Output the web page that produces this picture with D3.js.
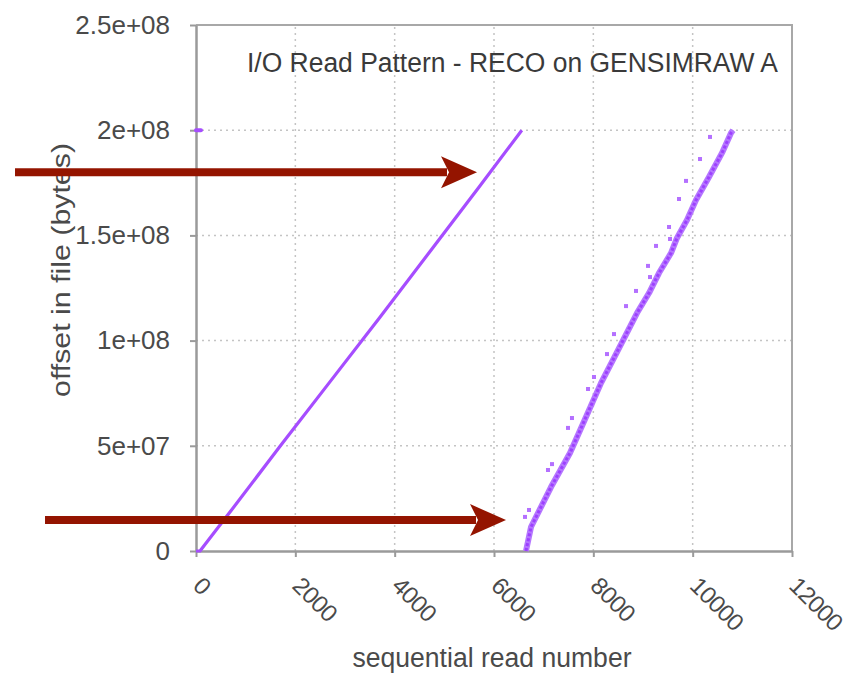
<!DOCTYPE html>
<html><head><meta charset="utf-8">
<script src="https://cdn.jsdelivr.net/npm/d3@7"></script>
<style>body{margin:0;background:#fff} text{font-family:"Liberation Sans",Arial,sans-serif}</style>
</head><body><svg id="c" width="850" height="674"></svg>
<script>
const xTicks = [0, 2000, 4000, 6000, 8000, 10000, 12000];
const xTickLabels = ["0", "2000", "4000", "6000", "8000", "10000", "12000"];
const yTicks = [0, 5e7, 1e8, 1.5e8, 2e8, 2.5e8];
const yTickLabels = ["0", "5e+07", "1e+08", "1.5e+08", "2e+08", "2.5e+08"];

// first pass: sequential read number vs offset
const firstPass = [[0,0],[80,0],[700,1.9e7],[1700,5.0e7],[2700,8.05e7],[3700,1.11e8],[4700,1.42e8],[5700,1.73e8],[6560,2.0e8]];
// early reads at the end of the file
const startReads = [[0,2e8],[50,2e8],[100,2e8]];
// second pass: main band
const secondBand = [[6644,0],[6745,1.14e7],[7148,3.04e7],[7530,4.66e7],[7852,6.37e7],[8154,7.98e7],[8497,9.55e7],[8879,1.131e8],[9121,1.226e8],[9322,1.321e8],[9564,1.416e8],[9685,1.488e8],[9886,1.573e8],[10067,1.668e8],[10329,1.778e8],[10591,1.892e8],[10772,1.987e8],[10812,2.0e8]];
// second pass: scattered out-of-order reads
const secondScatter = [[6624,1.62e7],[6705,1.95e7],[7087,3.85e7],[7168,4.13e7],[7490,5.85e7],[7570,6.32e7],[7893,7.70e7],[8013,8.27e7],[8275,9.36e7],[8416,1.031e8],[8658,1.164e8],[8859,1.236e8],[9141,1.302e8],[9101,1.355e8],[9262,1.450e8],[9544,1.483e8],[9524,1.540e8],[9725,1.673e8],[9866,1.759e8],[10148,1.863e8],[10349,1.968e8]];
// annotation arrows (data coordinates)
const arrows = [{from:[-3644,1.80e8], to:[5658,1.80e8]}, {from:[-3040,1.47e7], to:[6242,1.47e7]}];

const title = "I/O Read Pattern - RECO on GENSIMRAW A";
const xLabel = "sequential read number";
const yLabel = "offset in file (bytes)";

const svg = d3.select("#c");
const x = d3.scaleLinear().domain([0, 12000]).range([196, 792]);
const y = d3.scaleLinear().domain([0, 2.5e8]).range([551, 25]);

const gridColor = "#c4c4c4";
svg.append("g").selectAll("line").data(xTicks.slice(1, -1)).join("line")
  .attr("x1", d => x(d)).attr("x2", d => x(d)).attr("y1", y(0)).attr("y2", y(2.5e8))
  .attr("stroke", gridColor).attr("stroke-width", 1.5).attr("stroke-dasharray", "2,4");
svg.append("g").selectAll("line").data(yTicks.slice(1, -1)).join("line")
  .attr("y1", d => y(d)).attr("y2", d => y(d)).attr("x1", x(0)).attr("x2", x(12000))
  .attr("stroke", gridColor).attr("stroke-width", 1.5).attr("stroke-dasharray", "2,4");
svg.append("path").attr("d", `M${x(0)},${y(2.5e8)}H${x(12000)}V${y(0)}`)
  .attr("fill", "none").attr("stroke", "#a8a8a8").attr("stroke-width", 2);

const axisColor = "#9a9a9a";
const gx = svg.append("g").attr("transform", `translate(0,${y(0)})`)
  .call(d3.axisBottom(x).tickValues(xTicks).tickFormat("").tickSizeInner(6).tickSizeOuter(0));
const gy = svg.append("g").attr("transform", `translate(${x(0)},0)`)
  .call(d3.axisLeft(y).tickValues(yTicks).tickFormat((d, i) => yTickLabels[i]).tickSizeInner(6).tickSizeOuter(0).tickPadding(20));
[gx, gy].forEach(g => {
  g.select(".domain").attr("stroke", axisColor).attr("stroke-width", 2.5);
  g.selectAll(".tick line").attr("stroke", axisColor).attr("stroke-width", 2);
  g.selectAll(".tick text").attr("fill", "#4a4a4a").style("font-size", "26px").style("font-family", '"Liberation Sans",Arial,sans-serif');
});
svg.append("g").selectAll("text").data(xTicks).join("text")
  .attr("transform", d => `translate(${x(d) + 8},575) rotate(45)`)
  .attr("dy", "0.72em").attr("fill", "#4a4a4a").style("font-size", "24px").attr("letter-spacing", "-0.6")
  .text((d, i) => xTickLabels[i]);

const purple = "#a64dff";
const line = d3.line().x(d => x(d[0])).y(d => y(d[1]));
svg.append("path").datum(firstPass).attr("d", line).attr("fill", "none")
  .attr("stroke", purple).attr("stroke-width", 3.2).attr("stroke-linejoin", "round");
svg.append("path").datum(startReads).attr("d", line).attr("fill", "none")
  .attr("stroke", purple).attr("stroke-width", 4).attr("stroke-linecap", "round");
svg.append("path").datum(secondBand).attr("d", line).attr("fill", "none")
  .attr("stroke", "#b577ff").attr("stroke-width", 6).attr("stroke-linejoin", "round");
svg.append("path").datum(secondBand).attr("d", line).attr("fill", "none")
  .attr("stroke", "#9d40ff").attr("stroke-width", 3).attr("stroke-dasharray", "3,2").attr("stroke-linejoin", "round");
svg.append("g").selectAll("rect").data(secondScatter).join("rect")
  .attr("x", d => x(d[0]) - 2).attr("y", d => y(d[1]) - 2).attr("width", 4).attr("height", 4)
  .attr("fill", "#b470ff");

svg.append("text").attr("x", 247).attr("y", 72).attr("fill", "#3a3a3a").style("font-size", "27px")
  .attr("textLength", 531).attr("lengthAdjust", "spacingAndGlyphs").text(title);
svg.append("text").attr("x", 492).attr("y", 667).attr("text-anchor", "middle").attr("fill", "#4a4a4a")
  .style("font-size", "27px").attr("textLength", 279).attr("lengthAdjust", "spacingAndGlyphs").text(xLabel);
svg.append("text").attr("transform", "translate(70,270) rotate(-90)").attr("text-anchor", "middle").attr("fill", "#4a4a4a")
  .style("font-size", "26px").attr("textLength", 254).attr("lengthAdjust", "spacingAndGlyphs").text(yLabel);

const arrowColor = "#941400";
arrows.forEach(a => {
  const x0 = x(a.from[0]), x1 = x(a.to[0]), yy = y(a.to[1]);
  svg.append("line").attr("x1", x0).attr("x2", x1 - 30).attr("y1", yy).attr("y2", yy)
    .attr("stroke", arrowColor).attr("stroke-width", 8);
  svg.append("path").attr("d", `M${x1},${yy}L${x1 - 36},${yy - 16}L${x1 - 28},${yy}L${x1 - 36},${yy + 16}Z`)
    .attr("fill", arrowColor);
});
</script></body></html>
